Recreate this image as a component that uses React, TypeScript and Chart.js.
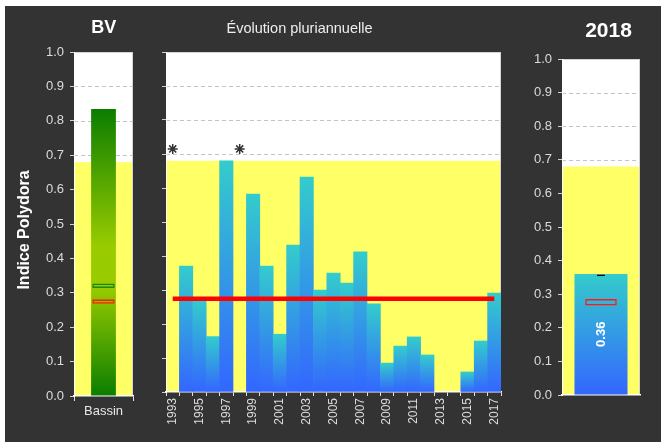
import React, { useEffect, useRef } from "react";
import { Chart, registerables } from "chart.js";

Chart.register(...registerables);

const FONT = '"Liberation Sans", Arial, Helvetica, sans-serif';
Chart.defaults.font.family = FONT;

// ---------- data ----------
const years = [
  "1993", "1994", "1995", "1996", "1997", "1998", "1999", "2000", "2001",
  "2002", "2003", "2004", "2005", "2006", "2007", "2008", "2009", "2010",
  "2011", "2012", "2013", "2014", "2015", "2016", "2017",
];
const yearlyIndex: (number | null)[] = [
  null, 0.37, 0.273, 0.163, 0.68, null, 0.582, 0.37, 0.17, 0.432, 0.632,
  0.3, 0.35, 0.32, 0.412, 0.259, 0.085, 0.135, 0.162, 0.109, null, null,
  0.059, 0.15, 0.291,
];
const missingYearMarks: (number | null)[] = [
  0.715, null, null, null, null, 0.715, null, null, null, null, null, null,
  null, null, null, null, null, null, null, null, null, null, null, null, null,
];
const referenceLevel = 0.274;

const axisTitle = "Indice Polydora";

const basinCategories = ["Bassin"];
const basinIndex = [0.834];
const basinGreenBox: [number, number] = [0.314, 0.327];
const basinRedBox: [number, number] = [0.268, 0.281];

const currentCategories = ["2018"];
const currentIndex = [0.36];
const currentMark: [number, number] = [0.354, 0.358];
const currentRedBox: [number, number] = [0.266, 0.286];

const yellowLimit = 0.68;
const dashedLevels = [0.7, 0.8, 0.9];

// ---------- helpers ----------
type TitleSpec = { text: string; x: number; y: number; font: string; color: string };

function panelPlugin(title: TitleSpec, sideTitle?: TitleSpec) {
  return {
    id: "panelBg",
    beforeDraw(chart: any) {
      const { ctx, chartArea } = chart;
      if (!chartArea) return;
      const y = chart.scales.y;
      const { left, right, top, bottom } = chartArea;
      ctx.save();
      ctx.fillStyle = "#ffffff";
      ctx.fillRect(left, top, right - left, bottom - top);
      const yl = y.getPixelForValue(yellowLimit);
      ctx.fillStyle = "#ffff66";
      ctx.fillRect(left, yl, right - left, bottom - yl);
      ctx.strokeStyle = "#c4c4c4";
      ctx.lineWidth = 1;
      ctx.setLineDash([4, 3]);
      for (const v of dashedLevels) {
        const p = Math.round(y.getPixelForValue(v)) + 0.5;
        ctx.beginPath();
        ctx.moveTo(left, p);
        ctx.lineTo(right, p);
        ctx.stroke();
      }
      ctx.setLineDash([]);
      ctx.strokeStyle = "#d4d4d4";
      ctx.strokeRect(left + 0.5, top + 0.5, right - left - 1, bottom - top - 1);
      ctx.fillStyle = title.color;
      ctx.font = title.font;
      ctx.textAlign = "center";
      ctx.textBaseline = "alphabetic";
      ctx.fillText(title.text, title.x, title.y);
      if (sideTitle) {
        ctx.translate(sideTitle.x, sideTitle.y);
        ctx.rotate(-Math.PI / 2);
        ctx.fillStyle = sideTitle.color;
        ctx.font = sideTitle.font;
        ctx.textAlign = "center";
        ctx.textBaseline = "middle";
        ctx.fillText(sideTitle.text, 0, 0);
      }
      ctx.restore();
    },
  };
}

function yScale(width: number, showLabels: boolean) {
  return {
    min: 0,
    max: 1,
    ticks: {
      stepSize: 0.1,
      display: showLabels,
      color: "#dcdcdc",
      font: { family: FONT, size: 13 },
      padding: 6,
      callback: (v: any) => Number(v).toFixed(1),
    },
    grid: {
      drawOnChartArea: false,
      drawTicks: true,
      tickLength: 4,
      tickColor: "#cfcfcf",
      tickWidth: 1,
    },
    border: { display: true, color: "#ffffff", width: 1 },
    afterFit: (s: any) => {
      s.width = width;
      s.paddingTop = 0;
      s.paddingBottom = 0;
      s.paddingLeft = 0;
      s.paddingRight = 0;
    },
  };
}

function blueGradient(c: any) {
  const chart = c.chart;
  const v = Array.isArray(c.raw) ? c.raw[1] : c.raw;
  if (v == null || !chart.chartArea) return "#33cccc";
  const y = chart.scales.y;
  const top = y.getPixelForValue(v);
  const bot = y.getPixelForValue(0);
  const g = chart.ctx.createLinearGradient(0, top, 0, bot);
  g.addColorStop(0, "#33cccc");
  g.addColorStop(1, "#3366ff");
  return g;
}

function greenGradient(c: any) {
  const chart = c.chart;
  if (!chart.chartArea) return "#66aa00";
  const y = chart.scales.y;
  const top = y.getPixelForValue(basinIndex[0]);
  const bot = y.getPixelForValue(0);
  const g = chart.ctx.createLinearGradient(0, bot, 0, top);
  g.addColorStop(0, "#0b7d00");
  g.addColorStop(0.38, "#99cc00");
  g.addColorStop(0.52, "#99cc00");
  g.addColorStop(1, "#0b7d00");
  return g;
}

// ---------- configs ----------
function basinConfig(): any {
  return {
    type: "bar",
    data: {
      labels: basinCategories,
      datasets: [
        {
          data: [basinGreenBox],
          backgroundColor: "rgba(0,0,0,0)",
          borderColor: "#1c8a10",
          borderWidth: 1.6,
          borderSkipped: false,
          barPercentage: 0.38,
          categoryPercentage: 1,
          grouped: false,
          order: 1,
        },
        {
          data: [basinRedBox],
          backgroundColor: "rgba(0,0,0,0)",
          borderColor: "#ff2200",
          borderWidth: 1.6,
          borderSkipped: false,
          barPercentage: 0.38,
          categoryPercentage: 1,
          grouped: false,
          order: 1,
        },
        {
          data: basinIndex,
          backgroundColor: greenGradient,
          borderWidth: 0,
          barPercentage: 0.42,
          categoryPercentage: 1,
          grouped: false,
          order: 3,
        },
      ],
    },
    options: {
      animation: false,
      responsive: false,
      devicePixelRatio: 1,
      layout: { padding: { left: 0, top: 46, right: 17, bottom: 0 } },
      plugins: { legend: { display: false }, tooltip: { enabled: false } },
      scales: {
        x: {
          offset: true,
          grid: { offset: true, drawOnChartArea: false, drawTicks: true, tickLength: 5, tickColor: "#e0e0e0" },
          border: { color: "#ffffff", width: 1.5 },
          ticks: { color: "#e6e6e6", font: { family: FONT, size: 13 }, padding: 3, maxRotation: 0 },
          afterFit: (s: any) => {
            s.height = 40;
            s.paddingLeft = 0;
            s.paddingRight = 0;
          },
        },
        y: yScale(69, true),
      },
    },
    plugins: [
      panelPlugin(
        { text: "BV", x: 98.7, y: 27, font: `bold 18px ${FONT}`, color: "#ffffff" },
        { text: axisTitle, x: 20, y: 224, font: `bold 16px ${FONT}`, color: "#ffffff" }
      ),
    ],
  };
}

function yearlyConfig(): any {
  return {
    type: "bar",
    data: {
      labels: years,
      datasets: [
        {
          type: "line",
          data: years.map(() => referenceLevel),
          borderColor: "#ff0000",
          borderWidth: 4.5,
          pointRadius: 0,
          fill: false,
          order: 0,
        },
        {
          type: "line",
          data: missingYearMarks,
          showLine: false,
          pointStyle: "star",
          pointRadius: 5,
          pointBorderColor: "#333333",
          pointBackgroundColor: "#333333",
          pointBorderWidth: 1.5,
          order: 0,
        },
        {
          data: yearlyIndex,
          backgroundColor: blueGradient,
          borderWidth: 0,
          barPercentage: 1,
          categoryPercentage: 1,
          order: 2,
        },
      ],
    },
    options: {
      animation: false,
      responsive: false,
      devicePixelRatio: 1,
      layout: { padding: { left: 0, top: 46, right: 19, bottom: 0 } },
      plugins: { legend: { display: false }, tooltip: { enabled: false } },
      scales: {
        x: {
          offset: true,
          grid: { offset: true, drawOnChartArea: false, drawTicks: true, tickLength: 4, tickColor: "#e0e0e0" },
          border: { color: "#ffffff", width: 1.5 },
          ticks: {
            autoSkip: false,
            minRotation: 90,
            maxRotation: 90,
            color: "#dcdcdc",
            font: { family: FONT, size: 12 },
            padding: 2,
            callback: (_v: any, i: number) => (i % 2 === 0 ? years[i] : ""),
          },
          afterFit: (s: any) => {
            s.height = 44;
            s.paddingLeft = 0;
            s.paddingRight = 0;
          },
        },
        y: yScale(16, false),
      },
    },
    plugins: [
      panelPlugin({
        text: "Évolution pluriannuelle",
        x: 149.5,
        y: 26.7,
        font: `14.5px ${FONT}`,
        color: "#eeeeee",
      }),
    ],
  };
}

const valueLabelPlugin = {
  id: "valueLabel",
  afterDatasetsDraw(chart: any) {
    const meta = chart.getDatasetMeta(2);
    const el = meta && meta.data[0];
    if (!el) return;
    const { x, y, base } = el.getProps(["x", "y", "base"], true);
    const ctx = chart.ctx;
    ctx.save();
    ctx.translate(x, (y + base) / 2);
    ctx.rotate(-Math.PI / 2);
    ctx.fillStyle = "#ffffff";
    ctx.font = `bold 13px ${FONT}`;
    ctx.textAlign = "center";
    ctx.textBaseline = "middle";
    ctx.fillText(currentIndex[0].toFixed(2), 0, 0);
    ctx.restore();
  },
};

function currentConfig(): any {
  return {
    type: "bar",
    data: {
      labels: currentCategories,
      datasets: [
        {
          data: [currentMark],
          backgroundColor: "#000000",
          borderWidth: 0,
          borderSkipped: false,
          barPercentage: 0.1,
          categoryPercentage: 1,
          grouped: false,
          order: 1,
        },
        {
          data: [currentRedBox],
          backgroundColor: "rgba(0,0,0,0)",
          borderColor: "#ff1a1a",
          borderWidth: 1.5,
          borderSkipped: false,
          barPercentage: 0.405,
          categoryPercentage: 1,
          grouped: false,
          order: 1,
        },
        {
          data: currentIndex,
          backgroundColor: blueGradient,
          borderWidth: 0,
          barPercentage: 0.68,
          categoryPercentage: 1,
          grouped: false,
          order: 3,
        },
      ],
    },
    options: {
      animation: false,
      responsive: false,
      devicePixelRatio: 1,
      layout: { padding: { left: 0, top: 53, right: 21, bottom: 0 } },
      plugins: { legend: { display: false }, tooltip: { enabled: false } },
      scales: {
        x: {
          offset: true,
          grid: { display: true, drawOnChartArea: false, drawTicks: false },
          border: { color: "#ffffff", width: 1.5 },
          ticks: { display: false },
          afterFit: (s: any) => {
            s.height = 41;
            s.paddingLeft = 0;
            s.paddingRight = 0;
          },
        },
        y: yScale(42, true),
      },
    },
    plugins: [
      panelPlugin({ text: "2018", x: 88.5, y: 30.7, font: `bold 21px ${FONT}`, color: "#ffffff" }),
      valueLabelPlugin,
    ],
  };
}

// ---------- components ----------
function ChartCanvas(props: { make: () => any; left: number; width: number; height: number }) {
  const ref = useRef<HTMLCanvasElement>(null);
  useEffect(() => {
    const chart = new Chart(ref.current as HTMLCanvasElement, props.make());
    return () => chart.destroy();
  }, []);
  return (
    <canvas
      ref={ref}
      width={props.width}
      height={props.height}
      style={{
        position: "absolute",
        left: props.left,
        top: 0,
        width: props.width,
        height: props.height,
      }}
    />
  );
}

export default function App() {
  return (
    <div
      style={{
        position: "fixed",
        left: 5,
        top: 6,
        width: 656,
        height: 436,
        background: "#333333",
        overflow: "hidden",
      }}
    >
      <ChartCanvas make={basinConfig} left={0} width={145} height={430} />
      <ChartCanvas make={yearlyConfig} left={145} width={370} height={430} />
      <ChartCanvas make={currentConfig} left={515} width={141} height={430} />
    </div>
  );
}
